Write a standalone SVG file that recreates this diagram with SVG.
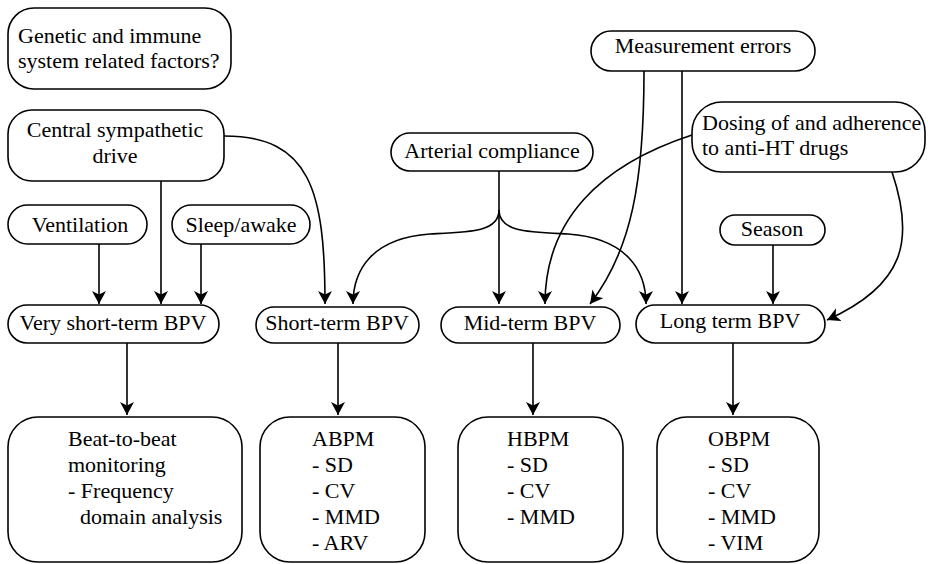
<svg xmlns="http://www.w3.org/2000/svg" width="928" height="564" viewBox="0 0 928 564">
<style>
.b{fill:#fff;stroke:#000;stroke-width:1.6}
.t{font-family:"Liberation Serif","Times New Roman",serif;font-size:22px;fill:#000}
.c{text-anchor:middle}
.e{fill:none;stroke:#000;stroke-width:1.6;marker-end:url(#a)}
</style>
<defs>
<marker id="a" markerUnits="userSpaceOnUse" markerWidth="16" markerHeight="16" refX="13" refY="7" orient="auto" viewBox="0 0 16 16">
<path d="M0,0 L13,7 L0,14 L3.5,7 z" fill="#000"/>
</marker>
</defs>
<g id="connectors">
<path class="e" d="M224,136 C310,136 325,190 325,304"/>
<path class="e" d="M161,181 V304"/>
<path class="e" d="M99,244 V304"/>
<path class="e" d="M201,244 V304"/>
<path class="e" d="M499,171 V304"/>
<path class="e" d="M499,210 C499,232 470,232 430,234 C372,238 353,270 353,304"/>
<path class="e" d="M499,210 C499,232 528,232 568,234 C626,238 646,270 646,304"/>
<path class="e" d="M644,71 C644,180 632,250 590,304"/>
<path class="e" d="M682,71 V304"/>
<path class="e" d="M692,135 C600,165 545,220 545,304"/>
<path class="e" d="M892,172 C915,240 905,285 827,320"/>
<path class="e" d="M773,245 V304"/>
<path class="e" d="M127,343 V415"/>
<path class="e" d="M338,343 V415"/>
<path class="e" d="M533,343 V415"/>
<path class="e" d="M733,343 V415"/>
</g>
<g id="genetic" class="t"><rect class="b" x="8" y="8" width="223" height="81" rx="26"/><text x="18" y="43">Genetic and immune</text><text x="18" y="68">system related factors?</text></g>
<g id="central" class="t"><rect class="b" x="8" y="110" width="216" height="71" rx="24"/><text class="c" x="115" y="137">Central sympathetic</text><text class="c" x="115" y="163">drive</text></g>
<g id="ventilation" class="t"><rect class="b" x="8" y="205" width="139" height="39" rx="19.5"/><text class="c" x="80" y="232">Ventilation</text></g>
<g id="sleep" class="t"><rect class="b" x="172" y="205" width="138" height="39" rx="19.5"/><text class="c" x="241" y="232">Sleep/awake</text></g>
<g id="arterial" class="t"><rect class="b" x="391" y="133" width="202" height="38" rx="19"/><text class="c" x="492" y="158">Arterial compliance</text></g>
<g id="measurement" class="t"><rect class="b" x="591" y="31" width="224" height="40" rx="20"/><text class="c" x="703" y="53">Measurement errors</text></g>
<g id="dosing" class="t"><rect class="b" x="692" y="102" width="233" height="70" rx="30"/><text x="702" y="130">Dosing of and adherence</text><text x="702" y="155">to anti-HT drugs</text></g>
<g id="season" class="t"><rect class="b" x="720" y="215" width="105" height="30" rx="15"/><text class="c" x="772" y="236">Season</text></g>
<g id="vst" class="t"><rect class="b" x="8" y="305" width="211" height="38" rx="19"/><text class="c" x="113" y="330">Very short-term BPV</text></g>
<g id="st" class="t"><rect class="b" x="256" y="307" width="163" height="36" rx="18"/><text class="c" x="337" y="330">Short-term BPV</text></g>
<g id="mt" class="t"><rect class="b" x="441" y="307" width="179" height="36" rx="18"/><text class="c" x="530" y="330">Mid-term BPV</text></g>
<g id="lt" class="t"><rect class="b" x="636" y="305" width="189" height="38" rx="19"/><text class="c" x="730" y="328">Long term BPV</text></g>
<g id="beat" class="t"><rect class="b" x="8" y="417" width="234" height="145" rx="30"/><text x="68" y="446">Beat-to-beat</text><text x="68" y="472">monitoring</text><text x="68" y="498">- Frequency</text><text x="80" y="524">domain analysis</text></g>
<g id="abpm" class="t"><rect class="b" x="260" y="417" width="165" height="145" rx="30"/><text x="312" y="446">ABPM</text><text x="312" y="472">- SD</text><text x="312" y="498">- CV</text><text x="312" y="524">- MMD</text><text x="312" y="550">- ARV</text></g>
<g id="hbpm" class="t"><rect class="b" x="458" y="417" width="165" height="145" rx="30"/><text x="507" y="446">HBPM</text><text x="507" y="472">- SD</text><text x="507" y="498">- CV</text><text x="507" y="524">- MMD</text></g>
<g id="obpm" class="t"><rect class="b" x="657" y="417" width="162" height="145" rx="30"/><text x="708" y="446">OBPM</text><text x="708" y="472">- SD</text><text x="708" y="498">- CV</text><text x="708" y="524">- MMD</text><text x="708" y="550">- VIM</text></g>
</svg>
